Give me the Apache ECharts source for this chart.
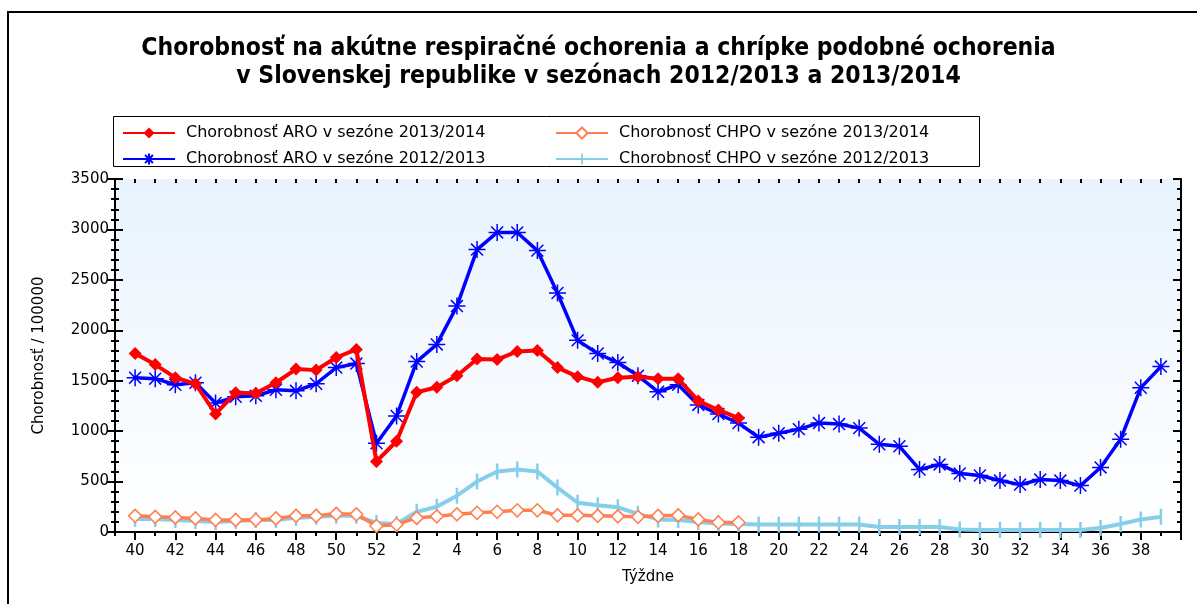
<!DOCTYPE html>
<html>
<head>
<meta charset="utf-8">
<script src="https://cdn.jsdelivr.net/npm/echarts@6/dist/echarts.min.js"></script>
<style>html,body{margin:0;padding:0;background:#fff}#c{width:1197px;height:604px}</style>
</head>
<body>
<div id="c"></div>
<script>
const weeks = ['40','41','42','43','44','45','46','47','48','49','50','51','52',
  '1','2','3','4','5','6','7','8','9','10','11','12','13','14','15','16','17','18','19','20',
  '21','22','23','24','25','26','27','28','29','30','31','32','33','34','35','36','37','38','39'];
const aro1314 = [1770,1660,1530,1470,1170,1380,1375,1480,1615,1605,1730,1810,700,
  900,1385,1435,1550,1715,1710,1790,1800,1630,1540,1485,1530,1540,1520,1520,1300,1210,1130];
const aro1213 = [1530,1520,1460,1480,1280,1340,1350,1410,1400,1470,1630,1670,880,
  1150,1690,1860,2240,2800,2970,2970,2790,2370,1900,1770,1680,1550,1390,1460,1260,1170,1080,940,980,
  1020,1080,1070,1030,870,850,620,670,580,560,510,470,520,510,460,640,920,1430,1640];
const chpo1314 = [160,150,145,135,120,120,120,135,160,160,180,175,60,
  75,140,155,175,190,200,215,215,165,165,160,155,150,160,165,125,95,95];
const chpo1213 = [130,130,120,110,100,110,120,120,140,150,160,160,90,
  80,200,250,360,500,600,620,600,440,290,265,245,180,125,120,100,85,80,75,75,
  75,75,75,75,50,50,50,50,25,20,20,20,20,20,20,40,80,125,150];
const yTicks = {min: 0, max: 3500, interval: 500};

const names = {
  aro1314: 'Chorobnosť ARO v sezóne 2013/2014',
  chpo1314: 'Chorobnosť CHPO v sezóne 2013/2014',
  aro1213: 'Chorobnosť ARO v sezóne 2012/2013',
  chpo1213: 'Chorobnosť CHPO v sezóne 2012/2013'
};

const cats = [''].concat(weeks, ['']);
const pad = arr => [null].concat(arr);
const isLabeled = (i) => i % 2 === 1;
const FONT = "'DejaVu Sans', sans-serif";
const star = 'path://M10,0L10,20M0,10L20,10M3,3L17,17M3,17L17,3';
const vbar = 'path://M0,8L16,8M6.75,0L9.25,0L9.25,16L6.75,16Z';

const chart = echarts.init(document.getElementById('c'));
const baseX = {type: 'category', data: cats, boundaryGap: false, gridIndex: 0};
const baseY = {type: 'value', min: yTicks.min, max: yTicks.max, interval: yTicks.interval, splitLine: {show: false}};

chart.setOption({
  animation: false,
  backgroundColor: '#ffffff',
  title: {
    text: 'Chorobnosť na akútne respiračné ochorenia a chrípke podobné ochorenia\nv Slovenskej republike v sezónach 2012/2013 a 2013/2014',
    left: 'center', top: 30,
    textStyle: {fontFamily: "'Liberation Sans Narrow', 'DejaVu Sans Condensed', sans-serif", fontWeight: 'bold', fontSize: 24.5, lineHeight: 28, color: '#000'}
  },
  graphic: [
    {type: 'rect', shape: {x: 8, y: 12, width: 1200, height: 600}, style: {fill: 'none', stroke: '#000', lineWidth: 2}, z: 0},
    {type: 'rect', shape: {x: 113.5, y: 116.5, width: 866, height: 50}, style: {fill: '#fff', stroke: '#000', lineWidth: 1}, z: 0}
  ],
  legend: [
    {data: [names.aro1314, names.aro1213], orient: 'vertical', left: 117, top: 120, itemWidth: 52, itemHeight: 14, itemGap: 10,
     textStyle: {fontFamily: FONT, fontSize: 16, color: '#000', padding: [0,0,0,6]}},
    {data: [names.chpo1314, names.chpo1213], orient: 'vertical', left: 550, top: 120, itemWidth: 52, itemHeight: 14, itemGap: 10,
     textStyle: {fontFamily: FONT, fontSize: 16, color: '#000', padding: [0,0,0,6]}}
  ],
  grid: {left: 115, right: 16, top: 179, bottom: 72, show: true, borderWidth: 0,
    backgroundColor: {type: 'linear', x: 0, y: 0, x2: 0, y2: 1, colorStops: [{offset: 0, color: '#e9f3fd'}, {offset: 1, color: '#ffffff'}]}},
  xAxis: [
    Object.assign({}, baseX, {position: 'bottom', name: 'Týždne', nameLocation: 'middle', nameGap: 38,
      nameTextStyle: {fontFamily: FONT, fontSize: 15, color: '#000'},
      axisLine: {lineStyle: {color: '#000', width: 2}},
      axisTick: {interval: isLabeled, length: 8, lineStyle: {color: '#000', width: 2}},
      axisLabel: {interval: isLabeled, margin: 12, fontFamily: FONT, fontSize: 15, color: '#000'}}),
    Object.assign({}, baseX, {position: 'bottom', axisLine: {show: false},
      axisTick: {interval: 0, length: 4, lineStyle: {color: '#000', width: 2}}, axisLabel: {show: false}}),
    Object.assign({}, baseX, {position: 'top', axisLine: {lineStyle: {color: '#000', width: 2}},
      axisTick: {inside: true, interval: isLabeled, length: 7, lineStyle: {color: '#000', width: 2}}, axisLabel: {show: false}}),
    Object.assign({}, baseX, {position: 'top', axisLine: {show: false},
      axisTick: {inside: true, interval: 0, length: 4, lineStyle: {color: '#000', width: 2}}, axisLabel: {show: false}})
  ],
  yAxis: [
    Object.assign({}, baseY, {position: 'left', name: 'Chorobnosť / 100000', nameLocation: 'middle', nameGap: 68,
      nameTextStyle: {fontFamily: FONT, fontSize: 15, color: '#000'},
      axisLine: {show: true, lineStyle: {color: '#000', width: 2}},
      axisTick: {show: true, length: 8, lineStyle: {color: '#000', width: 2}},
      minorTick: {show: true, splitNumber: 5, length: 4, lineStyle: {color: '#000', width: 2}},
      axisLabel: {margin: 6, fontFamily: FONT, fontSize: 15, color: '#000', formatter: v => String(v)}}),
    Object.assign({}, baseY, {position: 'left', axisLine: {show: false},
      axisTick: {show: true, inside: true, length: 8, lineStyle: {color: '#000', width: 2}},
      minorTick: {show: true, splitNumber: 5, length: 4, lineStyle: {color: '#000', width: 2}},
      axisLabel: {show: false}}),
    Object.assign({}, baseY, {position: 'right', axisLine: {show: true, lineStyle: {color: '#000', width: 2}},
      axisTick: {show: true, inside: true, length: 8, lineStyle: {color: '#000', width: 2}},
      minorTick: {show: true, splitNumber: 5, length: 4, lineStyle: {color: '#000', width: 2}},
      axisLabel: {show: false}})
  ],
  series: [
    {name: names.chpo1213, type: 'line', data: pad(chpo1213), symbol: vbar, symbolSize: 16, showAllSymbol: true,
     itemStyle: {color: '#87ceeb'}, lineStyle: {color: '#87ceeb', width: 4}, z: 2},
    {name: names.chpo1314, type: 'line', data: pad(chpo1314), symbol: 'diamond', symbolSize: 13, showAllSymbol: true,
     itemStyle: {color: '#ffffff', borderColor: '#ff7f50', borderWidth: 1.5}, lineStyle: {color: '#ff7f50', width: 3.5}, z: 3},
    {name: names.aro1213, type: 'line', data: pad(aro1213), symbol: star, symbolSize: 17, showAllSymbol: true,
     itemStyle: {color: '#0000ff', borderColor: '#0000ff', borderWidth: 1.5}, lineStyle: {color: '#0000ff', width: 3.5}, z: 4},
    {name: names.aro1314, type: 'line', data: pad(aro1314), symbol: 'diamond', symbolSize: 13, showAllSymbol: true,
     itemStyle: {color: '#ff0000'}, lineStyle: {color: '#ff0000', width: 4}, z: 5}
  ]
});
</script>
</body>
</html>
